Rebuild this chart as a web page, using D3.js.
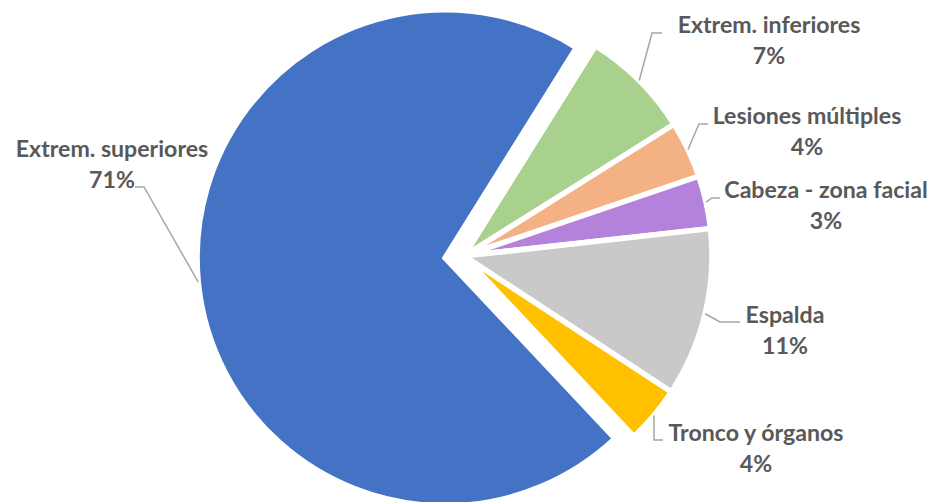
<!DOCTYPE html>
<html>
<head>
<meta charset="utf-8">
<script src="https://cdn.jsdelivr.net/npm/d3@7/dist/d3.min.js"></script>
<style>
  html, body { margin: 0; padding: 0; background: #fff; }
  svg { display: block; }
</style>
</head>
<body>
<svg id="chart" width="933" height="502"></svg>
<script>
// ---- data ----
const categories = ["Extrem. inferiores", "Lesiones múltiples", "Cabeza - zona facial", "Espalda", "Tronco y órganos", "Extrem. superiores"];
const values = [7.2, 3.7, 3.45, 11.0, 3.75, 70.9];
const colors = ["#A9D18E", "#F4B183", "#B482DA", "#C9C9C9", "#FFC000", "#4472C4"];
const exploded = [false, false, false, false, false, true];

// ---- layout ----
const W = 933, H = 502;
const cx = 464, cy = 256, R = 248, explodeDist = 19;
const startDeg = 32;
// label layout: text center x, first baseline y, leader end (ex, ey), horizontal stub length
const labelLayout = [
  { x: 769, y: 33, ex: 662, ey: 33, stub: 10 },
  { x: 807, y: 124, ex: 708, ey: 124, stub: 9 },
  { x: 826, y: 198, ex: 720, ey: 198, stub: 8 },
  { x: 785, y: 323, ex: 740, ey: 322, stub: 20 },
  { x: 756, y: 441, ex: 663, ey: 440, stub: 9 },
  { x: 112, y: 157, ex: 135, ey: 187, stub: -9 }
];
const lineGap = 31;

const svg = d3.select("#chart");
const total = d3.sum(values);
const data = categories.map((c, i) => ({ name: c, value: values[i], color: colors[i], ex: exploded[i], lab: labelLayout[i] }));

const s0 = startDeg * Math.PI / 180;
const pie = d3.pie().sort(null).value(d => d.value).startAngle(s0).endAngle(s0 + 2 * Math.PI);
const arcs = pie(data);
const arc = d3.arc().innerRadius(0).outerRadius(R);

function offset(a) {
  if (!a.data.ex) return [0, 0];
  const m = (a.startAngle + a.endAngle) / 2;
  return [Math.sin(m) * explodeDist, -Math.cos(m) * explodeDist];
}

const g = svg.append("g").attr("transform", `translate(${cx},${cy})`);

g.selectAll("path.slice").data(arcs).join("path")
  .attr("class", "slice")
  .attr("d", arc)
  .attr("transform", a => { const o = offset(a); return `translate(${o[0]},${o[1]})`; })
  .attr("fill", a => a.data.color)
  .attr("stroke", "#fff")
  .attr("stroke-width", 5.5)
  .attr("stroke-linejoin", "miter");

// leader lines
g.selectAll("path.leader").data(arcs).join("path")
  .attr("class", "leader")
  .attr("fill", "none")
  .attr("stroke", "#A6A6A6")
  .attr("stroke-width", 1.5)
  .attr("d", a => {
    const m = (a.startAngle + a.endAngle) / 2;
    const o = offset(a);
    const sx = o[0] + Math.sin(m) * R, sy = o[1] - Math.cos(m) * R;
    const L = a.data.lab;
    const ex = L.ex - cx, ey = L.ey - cy;
    const bx = ex - L.stub;
    return `M${sx},${sy}L${bx},${ey}L${ex},${ey}`;
  });

// labels
const font = "Lato, 'Open Sans', sans-serif";
const labels = svg.append("g")
  .attr("font-family", font)
  .attr("font-weight", "bold")
  .attr("fill", "#595959")
  .attr("text-anchor", "middle");

const targetWidths = [188, 190, 203, 77, 174, 189];
// measure at reference size, then pick size matching the reference label widths
const probe = labels.append("text").attr("font-size", 100);
let measured = 0;
categories.forEach(c => { probe.text(c); measured += probe.node().getComputedTextLength(); });
probe.remove();
const fontSize = 100 * d3.sum(targetWidths) / measured;

arcs.forEach(a => {
  const L = a.data.lab;
  const t = labels.append("text").attr("font-size", fontSize);
  t.append("tspan").attr("x", L.x).attr("y", L.y).text(a.data.name);
  t.append("tspan").attr("x", L.x).attr("y", L.y + lineGap).text(Math.round(a.data.value / total * 100) + "%");
});
</script>
</body>
</html>
